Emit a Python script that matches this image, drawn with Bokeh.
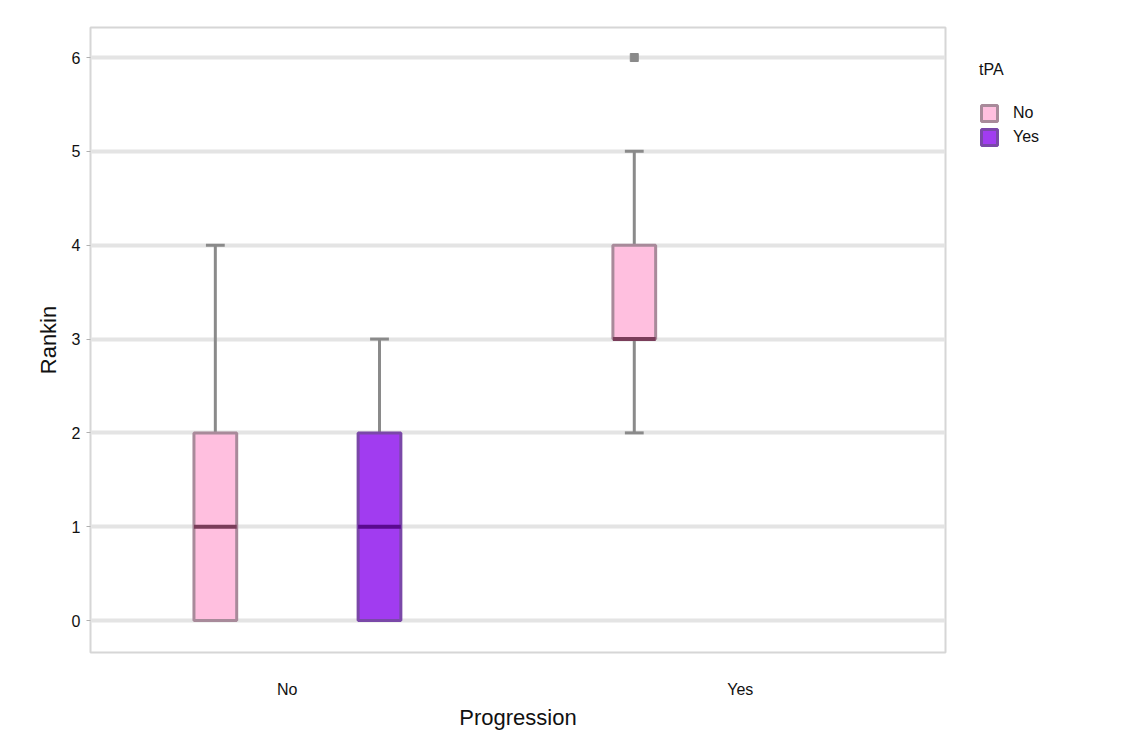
from bokeh.plotting import figure
from bokeh.models import ColumnDataSource, Range1d, FixedTicker, Legend, LegendItem
from bokeh.embed import file_html
from bokeh.resources import INLINE

# ---- data ----
progression = ["No", "No", "Yes"]
tpa = ["No", "Yes", "No"]
rk_min = [0, 0, 2]
rk_q1 = [0, 0, 3]
rk_med = [1, 1, 3]
rk_q3 = [2, 2, 4]
rk_max = [4, 3, 5]
outlier_prog = ["Yes"]
outlier_tpa = ["No"]
outlier_val = [6]
y_ticks = [0, 1, 2, 3, 4, 5, 6]
x_cats = ["No", "Yes"]

# ---- layout (positions on a 0..10 axis) ----
cat_pos = {"No": 2.30, "Yes": 7.60}
dodge = {("No", "No"): -0.84, ("No", "Yes"): 1.08, ("Yes", "No"): -1.24}
box_w = 0.50
cap_w = 0.22

fill = {"No": "#ffbfdf", "Yes": "#a13cf0"}
edge = {"No": "#a88a9a", "Yes": "#7a48a8"}
med_col = {"No": "#7a3d5a", "Yes": "#5a0a90"}

p = figure(frame_width=855, frame_height=625, output_backend="svg", toolbar_location=None,
           x_range=Range1d(0, 10), y_range=Range1d(-0.34, 6.32),
           min_border_left=90, min_border_top=27, min_border_right=10,
           min_border_bottom=78)
p.background_fill_color = "white"
p.outline_line_color = "#d6d6d6"
p.outline_line_width = 2

p.xgrid.grid_line_color = None
p.ygrid.grid_line_color = "#e4e4e4"
p.ygrid.grid_line_width = 4
p.yaxis.ticker = FixedTicker(ticks=y_ticks)
p.xaxis.ticker = FixedTicker(ticks=[cat_pos[c] for c in x_cats])
p.xaxis.major_label_overrides = {cat_pos[c]: c for c in x_cats}

for ax in (p.xaxis, p.yaxis):
    ax.axis_line_color = None
    ax.major_tick_line_color = "#b0b0b0"
    ax.minor_tick_line_color = None
    ax.major_tick_in = 0
    ax.major_label_text_font = "Liberation Sans"
    ax.major_label_text_font_size = "16px"
    ax.major_label_text_color = "#111111"
    ax.axis_label_text_font = "Liberation Sans"
    ax.axis_label_text_font_size = "22px"
    ax.axis_label_text_font_style = "normal"
    ax.axis_label_text_color = "#111111"
p.xaxis.major_tick_line_color = None
p.xaxis.major_tick_out = 0
p.xaxis.major_label_standoff = 28
p.xaxis.axis_label = "Progression"
p.xaxis.axis_label_standoff = 4
p.yaxis.axis_label = "Rankin"
p.yaxis.major_tick_out = 4
p.yaxis.major_label_standoff = 6
p.yaxis.axis_label_standoff = 8

legend_items = {}
for i in range(len(progression)):
    key = (progression[i], tpa[i])
    x = cat_pos[progression[i]] + dodge[key]
    g = tpa[i]
    src = ColumnDataSource(dict(x=[x], q1=[rk_q1[i]], q3=[rk_q3[i]], med=[rk_med[i]],
                                lo=[rk_min[i]], hi=[rk_max[i]]))
    p.segment(x0="x", y0="q3", x1="x", y1="hi", source=src, line_color="#8a8a8a", line_width=3)
    p.segment(x0="x", y0="lo", x1="x", y1="q1", source=src, line_color="#8a8a8a", line_width=3)
    p.segment(x0=x - cap_w / 2, y0="hi", x1=x + cap_w / 2, y1="hi", source=src,
              line_color="#8a8a8a", line_width=3)
    p.segment(x0=x - cap_w / 2, y0="lo", x1=x + cap_w / 2, y1="lo", source=src,
              line_color="#8a8a8a", line_width=3)
    r = p.vbar(x="x", width=box_w, bottom="q1", top="q3", source=src,
               fill_color=fill[g], line_color=edge[g], line_width=3)
    p.segment(x0=x - box_w / 2, y0="med", x1=x + box_w / 2, y1="med", source=src,
              line_color=med_col[g], line_width=4)
    if g not in legend_items:
        legend_items[g] = r

ox = [cat_pos[pr] + dodge[(pr, t)] for pr, t in zip(outlier_prog, outlier_tpa)]
p.scatter(x=ox, y=outlier_val, size=8, marker="square", fill_color="#8a8a8a",
          line_color="#8a8a8a")

legend = Legend(items=[LegendItem(label=k, renderers=[legend_items[k]]) for k in ["No", "Yes"]],
                location="top_left", title="tPA")
legend.title_text_font = "Liberation Sans"
legend.title_text_font_size = "16px"
legend.title_text_font_style = "normal"
legend.title_text_color = "#111111"
legend.title_standoff = 24
legend.label_text_font = "Liberation Sans"
legend.label_text_font_size = "16px"
legend.label_text_color = "#111111"
legend.glyph_width = 20
legend.glyph_height = 20
legend.label_height = 20
legend.spacing = 4
legend.padding = 0
legend.margin = 34
legend.border_line_color = None
legend.background_fill_alpha = 0
legend.label_standoff = 14
p.add_layout(legend, "right")

open("out.html", "w").write(file_html(p, INLINE))
